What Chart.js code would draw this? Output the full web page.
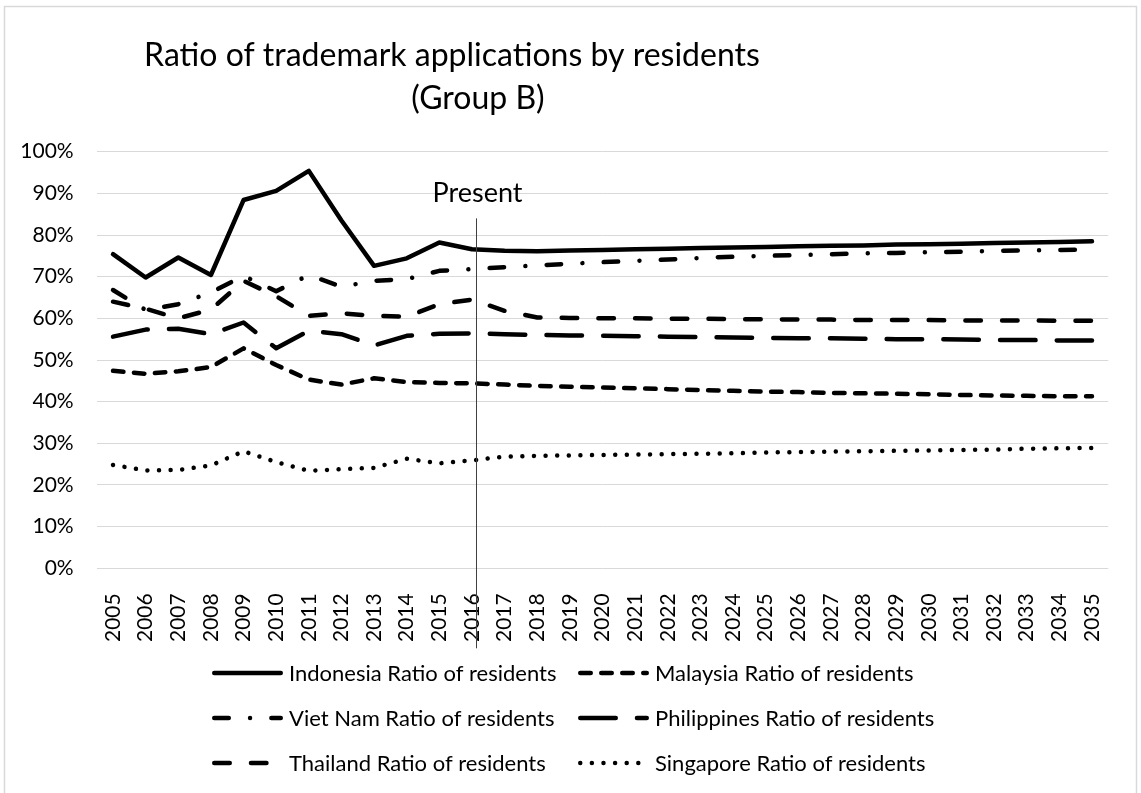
<!DOCTYPE html>
<html>
<head>
<meta charset="utf-8">
<title>Ratio of trademark applications by residents (Group B)</title>
<script src="https://cdn.jsdelivr.net/npm/chart.js@4.4.1/dist/chart.umd.min.js"></script>
<style>
  html, body { margin: 0; padding: 0; background: #fff; }
  canvas { display: block; }
</style>
</head>
<body>
<canvas id="chart" width="1141" height="793"></canvas>
<script>
// --- data (percent) ---
const years = ['2005', '2006', '2007', '2008', '2009', '2010', '2011', '2012', '2013', '2014', '2015',
    '2016', '2017', '2018', '2019', '2020', '2021', '2022', '2023', '2024', '2025',
    '2026', '2027', '2028', '2029', '2030', '2031', '2032', '2033', '2034', '2035'];

const indonesia = [75.4, 69.8, 74.6, 70.4, 88.4, 90.6, 95.4, 83.5, 72.6, 74.4, 78.2,
    76.6, 76.2, 76.1, 76.3, 76.4, 76.6, 76.7, 76.9, 77.0, 77.1,
    77.3, 77.4, 77.5, 77.7, 77.8, 77.9, 78.1, 78.2, 78.3, 78.5];
const malaysia = [47.4, 46.7, 47.3, 48.3, 52.8, 48.8, 45.3, 44.1, 45.6, 44.7, 44.5,
    44.4, 44.1, 43.8, 43.6, 43.4, 43.2, 43.0, 42.8, 42.6, 42.4,
    42.3, 42.1, 42.0, 41.9, 41.8, 41.6, 41.5, 41.4, 41.3, 41.3];
const vietnam = [66.8, 62.0, 63.4, 66.2, 70.2, 66.5, 70.4, 67.6, 69.0, 69.4, 71.4,
    71.8, 72.3, 72.7, 73.1, 73.5, 73.8, 74.1, 74.5, 74.8, 75.0,
    75.2, 75.4, 75.6, 75.7, 75.9, 76.0, 76.2, 76.3, 76.4, 76.5];
const philippines = [55.6, 57.3, 57.5, 56.2, 59.0, 52.8, 57.0, 56.2, 53.5, 55.8, 56.3,
    56.4, 56.2, 56.0, 55.9, 55.8, 55.7, 55.6, 55.5, 55.4, 55.3,
    55.2, 55.2, 55.1, 55.0, 55.0, 54.9, 54.8, 54.8, 54.7, 54.7];
const thailand = [64.0, 62.3, 60.0, 62.1, 69.0, 65.3, 60.6, 61.2, 60.6, 60.4, 63.4,
    64.5, 61.8, 60.2, 60.1, 60.0, 60.0, 59.9, 59.9, 59.8, 59.8,
    59.7, 59.7, 59.6, 59.6, 59.6, 59.5, 59.5, 59.5, 59.4, 59.4];
const singapore = [24.8, 23.5, 23.6, 24.7, 28.1, 25.5, 23.4, 23.8, 24.1, 26.3, 25.2,
    25.9, 26.8, 27.0, 27.1, 27.2, 27.3, 27.4, 27.5, 27.6, 27.8,
    27.9, 28.0, 28.1, 28.2, 28.3, 28.4, 28.5, 28.7, 28.8, 28.9];

const seriesNames = [
    'Indonesia Ratio of residents', 'Malaysia Ratio of residents',
    'Viet Nam Ratio of residents', 'Philippines Ratio of residents',
    'Thailand Ratio of residents', 'Singapore Ratio of residents'
];
const yTicks = [0, 10, 20, 30, 40, 50, 60, 70, 80, 90, 100];
const titleLines = ['Ratio of trademark applications by residents', '(Group B)'];
const presentLabel = 'Present';
const presentIndex = 11; // 2016

// --- styles ---
const FONT = "Lato, 'Open Sans', sans-serif";
const LW = 4.5;
const dashStyles = [
    [],                          // solid
    [10.5, 10.5],                // short dash
    [14.5, 21.3, 0.01, 21.3],    // dash dot
    [35.5, 21.2],                // long dash
    [15.5, 21.2],                // dash
    [0.01, 11.6]                 // round dot
];

const seriesData = [indonesia, malaysia, vietnam, philippines, thailand, singapore];

const datasets = seriesData.map((d, i) => ({
    label: seriesNames[i],
    data: d,
    borderColor: '#000',
    backgroundColor: '#000',
    borderWidth: LW,
    borderDash: dashStyles[i],
    borderCapStyle: 'round',
    borderJoinStyle: 'round',
    pointRadius: 0,
    pointHoverRadius: 0,
    tension: 0,
    fill: false
}));

const decor = {
    id: 'decor',
    beforeDraw(chart) {
        const ctx = chart.ctx;
        ctx.save();
        ctx.fillStyle = '#fff';
        ctx.fillRect(0, 0, chart.width, chart.height);
        ctx.strokeStyle = '#d9d9d9';
        ctx.lineWidth = 1.5;
        ctx.strokeRect(4.5, 6.5, 1132, 840);
        ctx.restore();
    },
    afterDraw(chart) {
        const ctx = chart.ctx;
        const x = chart.scales.x;
        const y = chart.scales.y;
        ctx.save();
        ctx.fillStyle = '#000';

        // title
        ctx.textAlign = 'center';
        ctx.textBaseline = 'alphabetic';
        ctx.font = '32px ' + FONT;
        ctx.fillText(titleLines[0], 452, 66);
        ctx.fillText(titleLines[1], 478, 109);

        // "Present" marker
        const px = Math.round(x.getPixelForValue(presentIndex + 0.12)) + 0.5;
        ctx.strokeStyle = '#404040';
        ctx.lineWidth = 1;
        ctx.beginPath();
        ctx.moveTo(px, y.getPixelForValue(84));
        ctx.lineTo(px, y.bottom + 80);
        ctx.stroke();
        ctx.font = '27px ' + FONT;
        ctx.fillText(presentLabel, px + 1, y.getPixelForValue(87.9));

        // legend, 2 columns x 3 rows
        const colX = [212, 578];
        const rowY = [673, 718, 763];
        const sample = 71;
        ctx.font = '22px ' + FONT;
        ctx.textAlign = 'left';
        ctx.textBaseline = 'middle';
        chart.data.datasets.forEach((ds, i) => {
            const lx = colX[i % 2];
            const ly = rowY[Math.floor(i / 2)];
            ctx.strokeStyle = '#000';
            ctx.lineWidth = LW;
            ctx.lineCap = 'round';
            ctx.setLineDash(ds.borderDash);
            ctx.beginPath();
            ctx.moveTo(lx + LW / 2, ly);
            ctx.lineTo(lx + sample - LW / 2, ly);
            ctx.stroke();
            ctx.setLineDash([]);
            ctx.fillText(ds.label, lx + sample + 6, ly + 1);
        });
        ctx.restore();
    }
};

new Chart(document.getElementById('chart'), {
    type: 'line',
    data: { labels: years, datasets },
    plugins: [decor],
    options: {
        responsive: false,
        animation: false,
        layout: { padding: { left: 0, right: 32.7, top: 151.7, bottom: 0 } },
        plugins: {
            legend: { display: false },
            title: { display: false },
            tooltip: { enabled: false }
        },
        scales: {
            x: {
                type: 'category',
                offset: true,
                grid: { display: false },
                border: { display: false },
                ticks: {
                    autoSkip: false,
                    minRotation: 90,
                    maxRotation: 90,
                    padding: 17,
                    color: '#000',
                    font: { family: FONT, size: 21 }
                },
                afterFit(scale) { scale.height = 224.7; }
            },
            y: {
                min: yTicks[0],
                max: yTicks[yTicks.length - 1],
                afterBuildTicks(scale) { scale.ticks = yTicks.map(v => ({ value: v })); },
                grid: { color: '#d9d9d9', lineWidth: 1, drawTicks: false },
                border: { display: false },
                ticks: {
                    padding: 23,
                    color: '#000',
                    font: { family: FONT, size: 21 },
                    callback: v => v + '%'
                },
                afterFit(scale) { scale.width = 96.7; }
            }
        }
    }
});
</script>
</body>
</html>
